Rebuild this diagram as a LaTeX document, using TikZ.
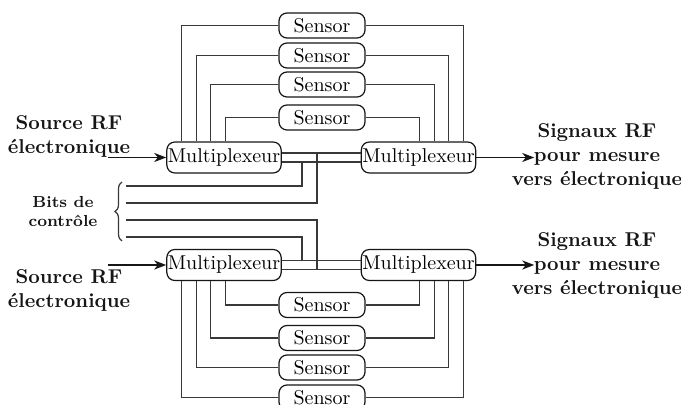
\documentclass[tikz,border=0pt]{standalone}
\usepackage{tikz}
\usetikzlibrary{positioning,arrows,arrows.meta,calc,decorations.pathreplacing}
\definecolor{ink}  {HTML}{161616}
\definecolor{wire} {HTML}{383838}
\tikzset{
  >=stealth,
  % --- nodes
  box/.style  = {rounded corners=4pt, draw=ink, line width=0.6pt, fill=white},
  sens/.style = {box, minimum width=43pt, minimum height=12.5pt, inner sep=0pt},
  mux/.style  = {box, minimum width=56pt, minimum height=15.5pt, inner xsep=0.5pt, inner ysep=0pt},
  lbl/.style  = {font=\bfseries, align=center, text=ink},
  tiny/.style = {font=\footnotesize\bfseries, align=center, text=ink},
  % --- edges
  w/.style    = {draw=wire, line width=0.6pt},
  e/.style    = {-{Stealth[length=6pt, width=4.5pt, inset=1.8pt]}, line width=0.9pt, draw=ink},
}
\begin{document}
\begin{tikzpicture}[x=0.5pt, y=-0.5pt]
  \useasboundingbox (0,0) rectangle (681,405);

  % --- multiplexers
  \node[mux] (mTL) at (224,157.5) {Multiplexeur};
  \node[mux] (mTR) at (418.5,157.5) {Multiplexeur};
  \node[mux] (mBL) at (224,265) {Multiplexeur};
  \node[mux] (mBR) at (418.5,265) {Multiplexeur};

  % --- sensors
  \node[sens] (sT1) at (322,25.5) {Sensor};
  \node[sens] (sT2) at (322,55.5) {Sensor};
  \node[sens] (sT3) at (322,84.5) {Sensor};
  \node[sens] (sT4) at (322,117.5) {Sensor};
  \node[sens] (sB1) at (322,305) {Sensor};
  \node[sens] (sB2) at (322,338) {Sensor};
  \node[sens] (sB3) at (322,367.5) {Sensor};
  \node[sens] (sB4) at (322,397.5) {Sensor};

  % --- sensor wiring
  \draw[w] (sT1.west) -| ([xshift=7.5pt]mTL.north west);
  \draw[w] (sT2.west) -| ([xshift=15pt]mTL.north west);
  \draw[w] (sT3.west) -| ([xshift=22pt]mTL.north west);
  \draw[w] (sT4.west) -| ([xshift=29.5pt]mTL.north west);
  \draw[w] (sT1.east) -| ([xshift=-6.5pt]mTR.north east);
  \draw[w] (sT2.east) -| ([xshift=-14pt]mTR.north east);
  \draw[w] (sT3.east) -| ([xshift=-21pt]mTR.north east);
  \draw[w] (sT4.east) -| ([xshift=-28.5pt]mTR.north east);
  \draw[w] (sB1.west) -| ([xshift=29.5pt]mBL.south west);
  \draw[w] (sB2.west) -| ([xshift=22pt]mBL.south west);
  \draw[w] (sB3.west) -| ([xshift=15pt]mBL.south west);
  \draw[w] (sB4.west) -| ([xshift=7.5pt]mBL.south west);
  \draw[w] (sB1.east) -| ([xshift=-28.5pt]mBR.south east);
  \draw[w] (sB2.east) -| ([xshift=-21pt]mBR.south east);
  \draw[w] (sB3.east) -| ([xshift=-14pt]mBR.south east);
  \draw[w] (sB4.east) -| ([xshift=-6.5pt]mBR.south east);

  % --- buses between multiplexers
  \coordinate (busT1) at ([yshift=2.25pt]mTL.east);
  \coordinate (busT2) at ([yshift=-2.25pt]mTL.east);
  \coordinate (busB1) at ([yshift=2.25pt]mBL.east);
  \coordinate (busB2) at ([yshift=-2.25pt]mBL.east);
  \draw[w] (busT1) -- (busT1 -| mTR.west);
  \draw[w] (busT2) -- (busT2 -| mTR.west);
  \draw[w] (busB1) -- (busB1 -| mBR.west);
  \draw[w] (busB2) -- (busB2 -| mBR.west);

  % --- control bits
  \coordinate (tapA) at (302,0);
  \coordinate (tapB) at (317,0);
  \coordinate (c1) at (126,186);
  \coordinate (c2) at (126,203);
  \coordinate (c3) at (126,220);
  \coordinate (c4) at (126,237);
  \draw[w] (c1) -| (tapA |- busT2);
  \draw[w] (c2) -| (tapB |- busT1);
  \draw[w] (c3) -| (tapB |- busB2);
  \draw[w] (c4) -| (tapA |- busB1);
  \draw[w, decorate, decoration={brace, amplitude=3.5pt}] (122,241) -- (122,182);
  \node[tiny] (bits) at (63,212) {Bits de\\contr\^ole};

  % --- inputs and outputs
  \node[lbl] (srcT) at (69,136) {Source RF\\\'electronique};
  \node[lbl] (srcB) at (69,290) {Source RF\\\'electronique};
  \node[lbl] (sigT) at (597,156) {Signaux RF\\pour mesure\\vers \'electronique};
  \node[lbl] (sigB) at (597,265) {Signaux RF\\pour mesure\\vers \'electronique};
  \coordinate (inT) at ([xshift=-29pt]mTL.west);
  \coordinate (inB) at ([xshift=-29pt]mBL.west);
  \coordinate (outT) at ([xshift=29pt]mTR.east);
  \coordinate (outB) at ([xshift=29pt]mBR.east);
  \draw[e] (inT) -- (mTL.west);
  \draw[e] (inB) -- (mBL.west);
  \draw[e] (mTR.east) -- (outT);
  \draw[e] (mBR.east) -- (outB);
\end{tikzpicture}
\end{document}
